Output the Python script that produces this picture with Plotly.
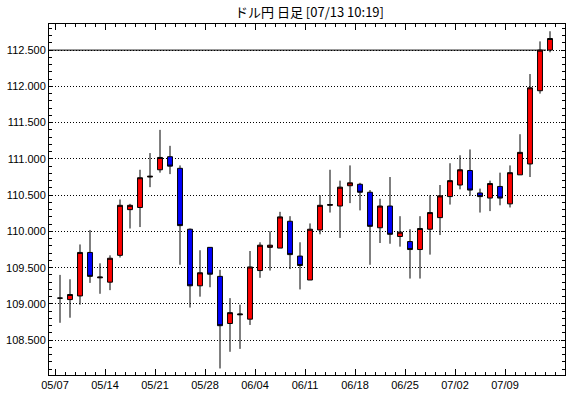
import pandas as pd
import plotly.graph_objects as go

title_text = "ドル円 日足 [07/13 10:19]"

opens = [109.08, 109.06, 109.11, 109.71, 109.36, 109.30, 109.67, 110.30, 110.33, 110.75,
         110.85, 111.03, 110.87, 110.03, 109.25, 109.78, 109.38, 108.73, 108.85, 108.79,
         109.46, 109.78, 109.77, 110.14, 109.66, 109.33, 110.02, 110.36, 110.35, 110.63,
         110.65, 110.54, 110.05, 110.35, 109.93, 109.86, 109.75, 110.03, 110.19, 110.48,
         110.64, 110.84, 110.53, 110.46, 110.62, 110.38, 110.78, 110.93, 111.94, 112.50]
highs = [109.40, 109.34, 109.82, 110.02, 109.56, 109.67, 110.44, 110.38, 110.85, 111.08,
         111.40, 111.18, 110.91, 110.04, 109.74, 109.78, 109.47, 109.08, 108.99, 109.73,
         109.85, 110.00, 110.27, 110.21, 109.85, 110.11, 110.50, 110.85, 110.70, 110.91,
         110.67, 110.57, 110.45, 110.75, 110.21, 110.03, 110.21, 110.50, 110.64, 110.94,
         111.05, 111.13, 110.59, 110.70, 110.81, 110.91, 111.34, 112.17, 112.62, 112.76]
lows = [108.74, 108.81, 108.99, 109.29, 109.14, 109.19, 109.64, 110.04, 110.06, 110.61,
        110.81, 110.79, 109.54, 108.95, 109.10, 109.23, 108.11, 108.34, 108.38, 108.71,
        109.36, 109.46, 109.77, 109.48, 109.20, 109.33, 109.96, 110.26, 109.91, 110.39,
        110.29, 109.54, 109.84, 109.83, 109.79, 109.35, 109.35, 109.68, 109.95, 110.37,
        110.58, 110.49, 110.26, 110.28, 110.36, 110.33, 110.78, 110.75, 111.90, 112.47]
closes = [109.08, 109.13, 109.71, 109.38, 109.37, 109.63, 110.36, 110.36, 110.74, 110.76,
          111.02, 110.90, 110.08, 109.25, 109.43, 109.41, 108.70, 108.88, 108.86, 109.51,
          109.81, 109.81, 110.20, 109.68, 109.53, 110.03, 110.36, 110.37, 110.61, 110.67,
          110.54, 110.07, 110.35, 109.96, 109.99, 109.75, 110.04, 110.26, 110.49, 110.70,
          110.85, 110.57, 110.48, 110.66, 110.46, 110.81, 111.09, 111.98, 112.50, 112.66]

dates = pd.bdate_range("2018-05-07", "2018-07-13")[:len(opens)]
xs = list(range(len(opens)))

tick_idx = [i for i, d in enumerate(dates) if d.weekday() == 0]
tick_vals = [i - 0.5 for i in tick_idx]
tick_text = [dates[i].strftime("%m/%d") for i in tick_idx]

fig = go.Figure()
fig.add_trace(go.Candlestick(
    x=xs, open=opens, high=highs, low=lows, close=closes,
    increasing=dict(fillcolor="#FF0000", line=dict(color="black", width=1)),
    decreasing=dict(fillcolor="#0000FF", line=dict(color="black", width=1)),
    whiskerwidth=0, showlegend=False, hoverinfo="skip",
))

fig.add_shape(type="line", xref="x", yref="y", x0=-1.1, x1=48.6, y0=112.5, y1=112.5,
              line=dict(color="black", width=1), layer="below")

font_ax = dict(family="Liberation Sans", size=11, color="black")

fig.update_layout(
    width=570, height=398,
    margin=dict(l=49, r=5, t=24, b=23),
    paper_bgcolor="white", plot_bgcolor="white",
    title=dict(text=title_text, x=0.543, xanchor="center", y=1 - 12 / 398, yanchor="middle",
               yref="container",
               font=dict(family="Noto Sans CJK JP", size=13, color="black")),
    showlegend=False,
    xaxis=dict(
        range=[-1.1, 50.5], rangeslider=dict(visible=False),
        tickmode="array", tickvals=tick_vals, ticktext=tick_text,
        ticks="inside", ticklen=6, tickcolor="black", tickwidth=1,
        minor=dict(tickmode="linear", tick0=-0.5, dtick=1, ticks="inside", ticklen=3,
                   tickcolor="black", showgrid=False),
        showgrid=False, zeroline=False,
        showline=True, linecolor="black", linewidth=1, mirror="ticks",
        tickfont=font_ax, fixedrange=True,
    ),
    yaxis=dict(
        range=[108.02, 112.86], side="left",
        tickmode="linear", tick0=108.5, dtick=0.5, tickformat=".3f",
        ticks="inside", ticklen=4, tickcolor="black",
        minor=dict(dtick=0.1, ticks="inside", ticklen=3, tickcolor="black", showgrid=False),
        showgrid=True, gridcolor="black", griddash="1px,2px", gridwidth=1,
        zeroline=False, showline=True, linecolor="black", linewidth=1, mirror="ticks",
        tickfont=font_ax, fixedrange=True,
    ),
)

fig.write_html("out.html")
